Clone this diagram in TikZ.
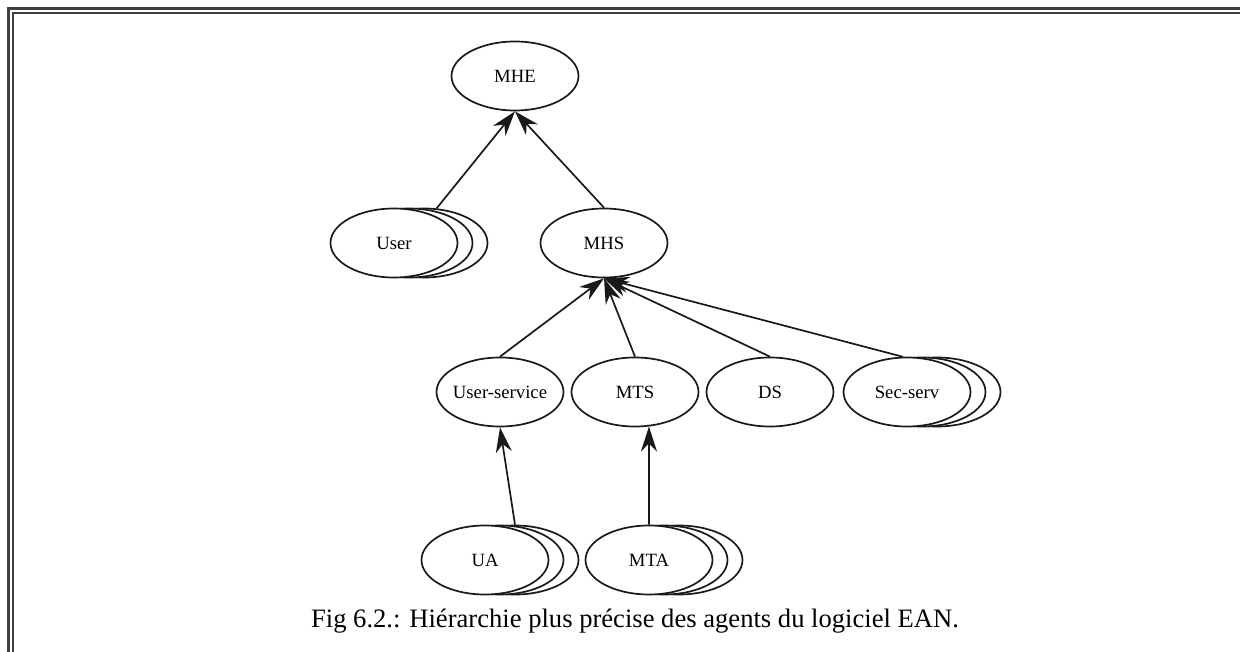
\documentclass[tikz,border=0pt]{standalone}
\usepackage{fontspec}
\setmainfont{Liberation Serif}
\usetikzlibrary{shapes.geometric,arrows.meta}

\begin{document}
\begin{tikzpicture}[x=1pt,y=-1pt,
  agent/.style={ellipse, draw=black!90, line width=1.7pt, fill=white,
    minimum width=127pt, minimum height=69pt, inner sep=0pt,
    font=\fontsize{18.7}{22}\selectfont},
  link/.style={draw=black!90, line width=1.7pt,
    -{Stealth[length=25pt,width=16pt,inset=8pt]}},
  outerline/.style={draw=black!75, line width=2.4pt},
  innerline/.style={draw=black!75, line width=1.7pt}]

\useasboundingbox (0,0) rectangle (1240,652);

% double frame along the top and left edges
\draw[outerline] (8.5,652) -- (8.5,8.5) -- (1240,8.5);
\draw[innerline] (13,652) -- (13,13) -- (1240,13);

% top level
\node[agent] (MHE) at (515,76) {\makebox[0pt]{MHE}};

% second level (User is a stacked, multiple agent)
\node[agent] (Userc) at (424,243) {};
\node[agent] (Userb) at (409,243) {};
\node[agent] (User)  at (394,243) {\makebox[0pt]{User}};
\node[agent] (MHS)   at (604,243) {\makebox[0pt]{MHS}};

% third level
\node[agent] (US)  at (500,392) {\makebox[0pt]{User-service}};
\node[agent] (MTS) at (635,392) {\makebox[0pt]{MTS}};
\node[agent] (DS)  at (770,392) {\makebox[0pt]{DS}};
\node[agent] (Secc) at (937,392) {};
\node[agent] (Secb) at (922,392) {};
\node[agent] (Sec)  at (907,392) {\makebox[0pt]{Sec-serv}};

% fourth level
\node[agent] (UAc) at (515,560) {};
\node[agent] (UAb) at (500,560) {};
\node[agent] (UA)  at (485,560) {\makebox[0pt]{UA}};
\node[agent] (MTAc) at (679,560) {};
\node[agent] (MTAb) at (664,560) {};
\node[agent] (MTA)  at (649,560) {\makebox[0pt]{MTA}};

% hierarchy links (child -> parent)
\draw[link] (Userc.70) -- (MHE.south);
\draw[link] (MHS.north) -- (MHE.south);
\draw[link] (US.north) -- (MHS.south);
\draw[link] (MTS.north) -- (MHS.south);
\draw[link] (DS.north) -- (MHS.south);
\draw[link] (Sec.97) -- (MHS.south);
\draw[link] (UAc.north) -- (US.south);
\draw[link] (MTA.north) -- (MTS.-68);

% caption
\node[anchor=base, inner sep=0pt, font=\fontsize{26.6}{30}\selectfont] (cap) at (635,627)
  {Fig 6.2.: Hiérarchie plus précise des agents du logiciel EAN.};
\end{tikzpicture}
\end{document}
